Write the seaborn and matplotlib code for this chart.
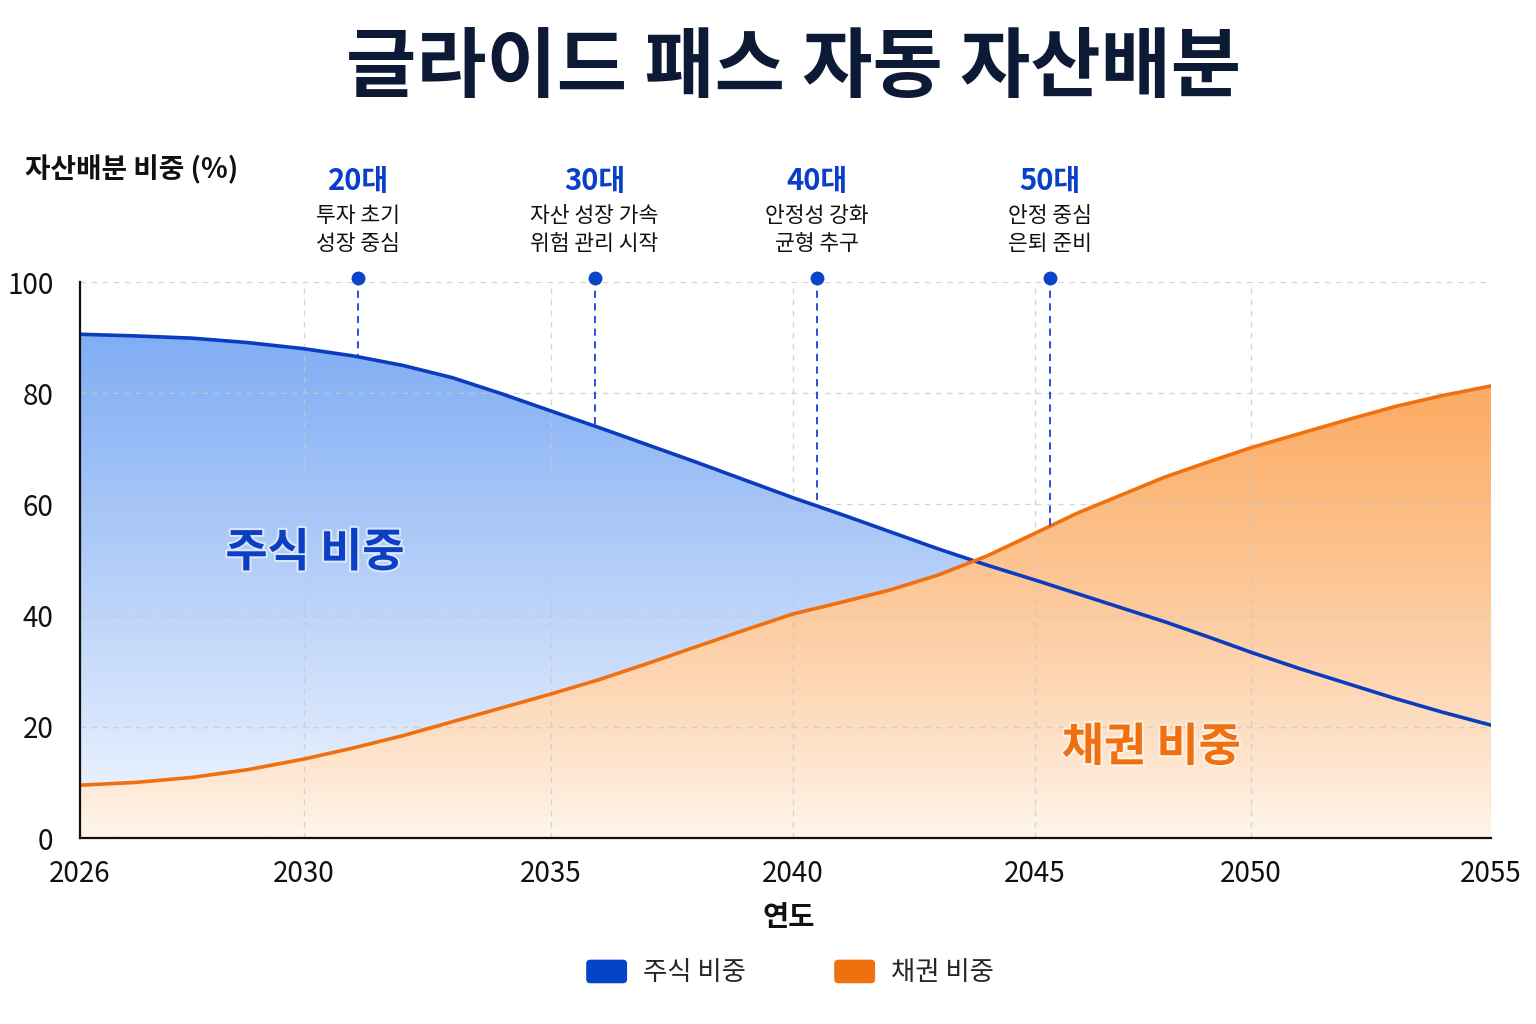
import numpy as np
import pandas as pd
import matplotlib
matplotlib.use("Agg")
import matplotlib.pyplot as plt
import seaborn as sns
from matplotlib.patches import Patch, FancyBboxPatch
from matplotlib.legend_handler import HandlerPatch
import matplotlib.patheffects as pe

# ---------------- data ----------------
YEARS = list(range(2026, 2056))
STOCK = [90.6, 90.3, 89.9, 89.1, 88.0, 86.7, 85.0, 82.8, 79.9, 76.8,
         73.8, 70.7, 67.6, 64.4, 61.2, 58.2, 55.1, 52.0, 49.1, 46.4,
         43.9, 41.4, 38.9, 36.2, 33.4, 30.5, 27.8, 25.1, 22.6, 20.3]
BOND = [9.5, 10.0, 10.9, 12.3, 14.2, 16.2, 18.4, 20.9, 23.4, 25.9,
        28.5, 31.4, 34.4, 37.4, 40.3, 42.4, 44.6, 47.3, 50.7, 54.8,
        58.5, 61.7, 64.9, 67.6, 70.2, 72.7, 75.2, 77.6, 79.6, 81.3]
SERIES_NAMES = ["주식 비중", "채권 비중"]

TICK_YEARS = [2026, 2030, 2035, 2040, 2045, 2050, 2055]
Y_TICKS = [0, 20, 40, 60, 80, 100]

STAGE_YEARS = [2031.1, 2035.9, 2040.5, 2045.35]
STAGE_LABELS = ["20대", "30대", "40대", "50대"]
STAGE_LINE1 = ["투자 초기", "자산 성장 가속", "안정성 강화", "안정 중심"]
STAGE_LINE2 = ["성장 중심", "위험 관리 시작", "균형 추구", "은퇴 준비"]

TITLE = "글라이드 패스 자동 자산배분"
Y_LABEL = "자산배분 비중 (%)"
X_LABEL = "연도"

# ---------------- style ----------------
BLUE = "#0b3cc0"
ORANGE = "#f07010"
NAVY = "#0d1a36"
STAGE_BLUE = "#0a3fc8"

sns.set_theme(style="white")
plt.rcParams["font.family"] = ["Noto Sans CJK KR", "DejaVu Sans"]
NUM_FONT = ["Noto Sans CJK KR", "DejaVu Sans"]

W, H = 1536, 1024
fig = plt.figure(figsize=(W / 100, H / 100), dpi=100)
fig.patch.set_facecolor("white")
ax = fig.add_axes([80 / W, 1 - 838 / H, (1491 - 80) / W, (838 - 282) / H])

# piecewise x scale (ticks are almost evenly spaced in the reference)
TICK_POS = np.array([0, 224, 471, 713, 955, 1171, 1411], dtype=float)
TY = np.array(TICK_YEARS, dtype=float)


def _fwd(x):
    x = np.asarray(x, dtype=float)
    out = np.interp(x, TY, TICK_POS)
    lo = x < TY[0]
    hi = x > TY[-1]
    out = np.where(lo, TICK_POS[0] + (x - TY[0]) * (TICK_POS[1] - TICK_POS[0]) / (TY[1] - TY[0]), out)
    out = np.where(hi, TICK_POS[-1] + (x - TY[-1]) * (TICK_POS[-1] - TICK_POS[-2]) / (TY[-1] - TY[-2]), out)
    return out


def _inv(p):
    p = np.asarray(p, dtype=float)
    out = np.interp(p, TICK_POS, TY)
    lo = p < TICK_POS[0]
    hi = p > TICK_POS[-1]
    out = np.where(lo, TY[0] + (p - TICK_POS[0]) * (TY[1] - TY[0]) / (TICK_POS[1] - TICK_POS[0]), out)
    out = np.where(hi, TY[-1] + (p - TICK_POS[-1]) * (TY[-1] - TY[-2]) / (TICK_POS[-1] - TICK_POS[-2]), out)
    return out


ax.set_xscale("function", functions=(_fwd, _inv))

df = pd.DataFrame({"year": YEARS, "stock": STOCK, "bond": BOND})


def gradient_fill(x, y, top_rgb, bot_rgb, z, gamma=1.0):
    poly = ax.fill_between(x, 0, y, facecolor="none", edgecolor="none", zorder=z)
    ymax = float(np.max(y))
    n = 300
    t = np.linspace(0, 1, n)[:, None, None] ** gamma
    top = np.array(matplotlib.colors.to_rgb(top_rgb))[None, None, :]
    bot = np.array(matplotlib.colors.to_rgb(bot_rgb))[None, None, :]
    img = bot + (top - bot) * t
    im = ax.imshow(img, extent=[x[0], x[-1], 0, ymax], origin="lower",
                   aspect="auto", zorder=z, interpolation="bilinear")
    im.set_clip_path(poly.get_paths()[0], ax.transData)
    return im


gradient_fill(df["year"].values, df["stock"].values, "#80adf4", "#f7faff", 1.0, gamma=0.9)
gradient_fill(df["year"].values, df["bond"].values, "#fbab62", "#fff7f0", 1.1, gamma=0.8)

sns.lineplot(data=df, x="year", y="stock", color=BLUE, lw=2.6, ax=ax, zorder=3)
sns.lineplot(data=df, x="year", y="bond", color=ORANGE, lw=2.6, ax=ax, zorder=3)

# stage markers
upper = np.maximum(np.array(STOCK), np.array(BOND))
for yr, lab, l1, l2 in zip(STAGE_YEARS, STAGE_LABELS, STAGE_LINE1, STAGE_LINE2):
    yend = float(np.interp(yr, YEARS, upper))
    ax.plot([yr, yr], [100.7, yend], color="#1b3fe0", lw=1.3, ls=(0, (4, 3)),
            zorder=4, clip_on=False)
    ax.plot([yr], [100.7], marker="o", ms=9, color="#0a45c8", zorder=5, clip_on=False)
    ax.text(yr, 118.1, lab, ha="center", va="center", fontsize=21, fontweight="bold",
            color=STAGE_BLUE, clip_on=False)
    ax.text(yr, 111.9, l1, ha="center", va="center", fontsize=15.5, color="#111111",
            clip_on=False)
    ax.text(yr, 106.9, l2, ha="center", va="center", fontsize=15.5, color="#111111",
            clip_on=False)

# in-chart labels
halo = [pe.withStroke(linewidth=3, foreground="white", alpha=0.55)]
ax.text(2030.22, 51.2, SERIES_NAMES[0], ha="center", va="center", fontsize=33,
        fontweight="bold", color="#0b3fc4", path_effects=halo, zorder=6)
ax.text(2047.69, 16.2, SERIES_NAMES[1], ha="center", va="center", fontsize=33,
        fontweight="bold", color=ORANGE, path_effects=halo, zorder=6)

# axes cosmetics
ax.set_xlim(2026, 2055)
ax.set_ylim(0, 100)
ax.set_xticks(TICK_YEARS)
ax.set_xticklabels([str(t) for t in TICK_YEARS])
ax.set_yticks(Y_TICKS)
ax.set_yticklabels([str(t) for t in Y_TICKS])
ax.minorticks_off()
ax.set_axisbelow(False)
ax.grid(True, ls=(0, (4, 4)), color="#c8c8c8", lw=1.0, alpha=0.75, zorder=2)
for gl in ax.get_xgridlines() + ax.get_ygridlines():
    gl.set_zorder(2)
for s in ["top", "right"]:
    ax.spines[s].set_visible(False)
for s in ["left", "bottom"]:
    ax.spines[s].set_color("#111111")
    ax.spines[s].set_linewidth(1.6)
    ax.spines[s].set_zorder(7)
ax.tick_params(axis="both", which="major", direction="out", length=8, width=1.5,
               color="#111111", labelsize=20, labelcolor="#111111")
ax.tick_params(axis="y", pad=11)
ax.tick_params(axis="x", pad=7)
for lbl in ax.get_xticklabels() + ax.get_yticklabels():
    lbl.set_family(NUM_FONT)
ax.set_xlabel("")
ax.set_ylabel("")
ax.set_facecolor("white")

# titles & labels
fig.text(794 / W, 1 - 68 / H, TITLE, ha="center", va="center", fontsize=55,
         fontweight="bold", color=NAVY)
fig.text(25 / W, 1 - 170 / H, Y_LABEL, ha="left", va="center", fontsize=20,
         fontweight="bold", color="#111111")
fig.text(789 / W, 1 - 918 / H, X_LABEL, ha="center", va="center", fontsize=20.5,
         fontweight="bold", color="#111111")


class RoundHandler(HandlerPatch):
    def create_artists(self, legend, orig_handle, xdescent, ydescent, width, height,
                       fontsize, trans):
        p = FancyBboxPatch((-xdescent, -ydescent), width, height,
                           boxstyle="round,pad=0,rounding_size=3",
                           facecolor=orig_handle.get_facecolor(), edgecolor="none",
                           transform=trans)
        return [p]


handles = [Patch(facecolor="#0444c8", label=SERIES_NAMES[0]),
           Patch(facecolor=ORANGE, label=SERIES_NAMES[1])]
fig.legend(handles=handles, loc="center", bbox_to_anchor=(790 / W, 1 - 973 / H),
           ncol=2, frameon=False, fontsize=19, handlelength=1.55, handleheight=1.0,
           handletextpad=0.6, columnspacing=3.35,
           handler_map={Patch: RoundHandler()})

fig.savefig("out.png", dpi=100, facecolor="white")
